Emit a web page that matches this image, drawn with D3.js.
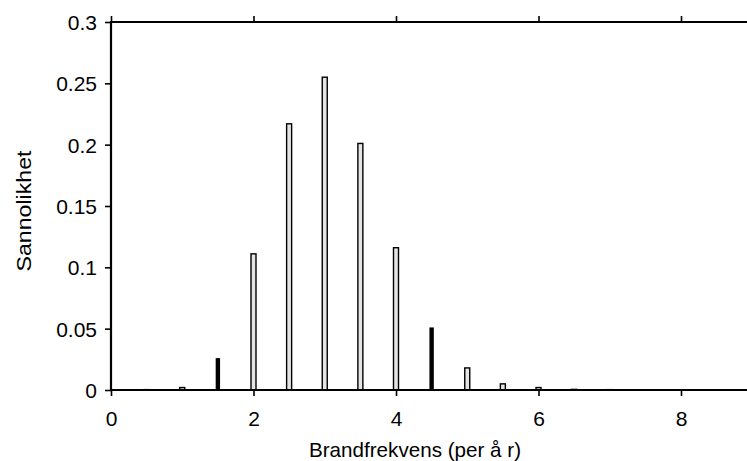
<!DOCTYPE html>
<html>
<head>
<meta charset="utf-8">
<script src="https://cdn.jsdelivr.net/npm/d3@7"></script>
<style>
  html, body { margin: 0; padding: 0; background: #fff; }
  svg { display: block; }
  text { font-family: "Liberation Sans", Arial, sans-serif; fill: #000; }
</style>
</head>
<body>
<svg id="chart" width="747" height="461"></svg>
<script>
// Data
const frequencies = [0.5, 1, 1.5, 2, 2.5, 3, 3.5, 4, 4.5, 5, 5.5, 6, 6.5, 7, 7.5];
const openProbabilities = [0.0003, 0.002, null, 0.111, 0.217, 0.255, 0.201, 0.116, null, 0.018, 0.005, 0.002, 0.0005, 0.0003, 0.0002];
const solidProbabilities = [null, null, 0.026, null, null, null, null, null, 0.051, null, null, null, null, null, null];
const xTicks = [0, 2, 4, 6, 8];
const yTicks = [0, 0.05, 0.1, 0.15, 0.2, 0.25, 0.3];
const xTitle = "Brandfrekvens (per å r)";
const yTitle = "Sannolikhet";

(function () {
const svg = d3.select("#chart");
const mLeft = 111, mTop = 22, mBottom = 390;
const x = d3.scaleLinear().domain([0, 9]).range([mLeft, mLeft + 9 * 71.25]);
const y = d3.scaleLinear().domain([0, 0.3]).range([mBottom, mTop]);

// Bars
const openData = frequencies.map((f, i) => ({f, v: openProbabilities[i]})).filter(d => d.v != null);
const solidData = frequencies.map((f, i) => ({f, v: solidProbabilities[i]})).filter(d => d.v != null);

svg.append("g").selectAll("rect").data(openData).enter().append("rect")
  .attr("x", d => x(d.f) - 2.5)
  .attr("width", 5)
  .attr("y", d => y(d.v))
  .attr("height", d => Math.max(0.5, y(0) - y(d.v)))
  .attr("fill", "#e4e4e4")
  .attr("stroke", "#000")
  .attr("stroke-width", 1.4);

svg.append("g").selectAll("rect").data(solidData).enter().append("rect")
  .attr("x", d => x(d.f) - 2.2)
  .attr("width", 4.4)
  .attr("y", d => y(d.v))
  .attr("height", d => y(0) - y(d.v))
  .attr("fill", "#000");

// Axes
const fontSize = 21;
const xAxis = svg.append("g").attr("transform", `translate(0,${mBottom})`)
  .call(d3.axisBottom(x).tickValues(xTicks).tickSize(6).tickPadding(6).tickFormat(d3.format("d")));
const xTop = svg.append("g").attr("transform", `translate(0,${mTop})`)
  .call(d3.axisTop(x).tickValues(xTicks).tickSize(6).tickFormat(""));
const yAxis = svg.append("g").attr("transform", `translate(${mLeft},0)`)
  .call(d3.axisLeft(y).tickValues(yTicks).tickSize(6).tickPadding(8).tickFormat(d => String(+d.toFixed(2))));

[xAxis, xTop, yAxis].forEach(g => {
  g.select(".domain").remove();
  g.selectAll(".tick line").attr("stroke", "#000").attr("stroke-width", 1.6);
  g.selectAll(".tick text").style("font-size", fontSize + "px").style("font-family", "Liberation Sans, Arial, sans-serif").attr("fill", "#000");
});
xAxis.selectAll(".tick text").attr("dy", null).attr("y", 36);
yAxis.selectAll(".tick text").attr("dy", "0.36em");

// Frame lines
svg.append("line").attr("x1", mLeft).attr("x2", 747).attr("y1", mBottom).attr("y2", mBottom)
  .attr("stroke", "#000").attr("stroke-width", 2.2);
svg.append("line").attr("x1", mLeft).attr("x2", 747).attr("y1", mTop).attr("y2", mTop)
  .attr("stroke", "#000").attr("stroke-width", 2.2);
svg.append("line").attr("x1", mLeft).attr("x2", mLeft).attr("y1", mTop - 1).attr("y2", mBottom + 1)
  .attr("stroke", "#000").attr("stroke-width", 2.2);

// Titles
svg.append("text").attr("x", 415).attr("y", 457).attr("text-anchor", "middle")
  .attr("textLength", 212).attr("lengthAdjust", "spacingAndGlyphs")
  .style("font-size", "21px").text(xTitle);
svg.append("text").attr("transform", `translate(31,211) rotate(-90)`).attr("text-anchor", "middle")
  .attr("textLength", 121).attr("lengthAdjust", "spacingAndGlyphs")
  .style("font-size", "21px").text(yTitle);
})();
</script>
</body>
</html>
